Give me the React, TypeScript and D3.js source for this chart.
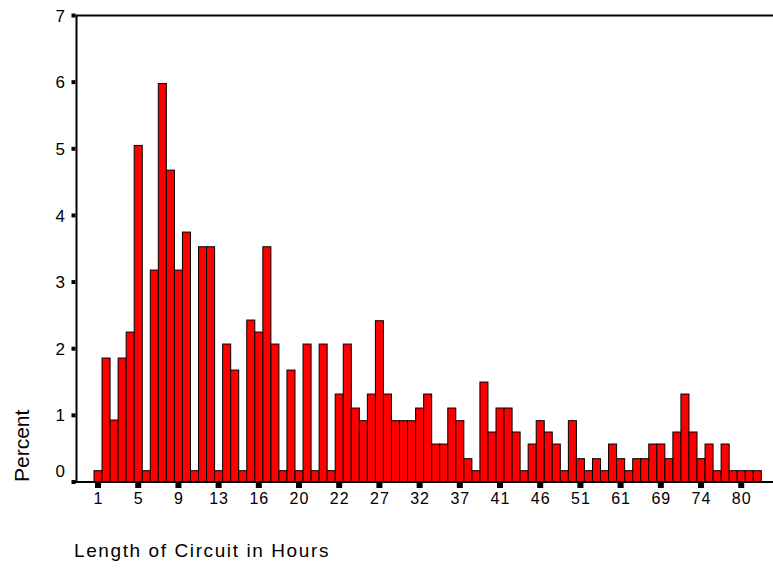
import React from "react";
import * as d3 from "d3";

const values: number[] = [
  0.17, 1.86, 0.93, 1.86, 2.25, 5.05, 0.17, 3.18, 5.98, 4.68,
  3.18, 3.75, 0.17, 3.53, 3.53, 0.17, 2.07, 1.68, 0.17, 2.43,
  2.25, 3.53, 2.07, 0.17, 1.68, 0.17, 2.07, 0.17, 2.07, 0.17,
  1.32, 2.07, 1.11, 0.92, 1.32, 2.42, 1.32, 0.92, 0.92, 0.92,
  1.11, 1.32, 0.57, 0.57, 1.11, 0.92, 0.35, 0.17, 1.5, 0.75,
  1.11, 1.11, 0.75, 0.17, 0.57, 0.92, 0.75, 0.57, 0.17, 0.92,
  0.35, 0.17, 0.35, 0.17, 0.57, 0.35, 0.17, 0.35, 0.35, 0.57,
  0.57, 0.35, 0.75, 1.32, 0.75, 0.35, 0.57, 0.17, 0.57, 0.17,
  0.17, 0.17, 0.17,
];

const tickLabels: string[] = [
  "1", "5", "9", "13", "16", "20", "22", "27", "32", "37",
  "41", "46", "51", "61", "69", "74", "80",
];
const tickEvery = 5;
const yTicks: number[] = [0, 1, 2, 3, 4, 5, 6, 7];

const W = 773;
const H = 588;
const axisX = 76.5;
const plotTop = 15.5;
const baseY = 482;
const barStart = 94;
const barW = 8.04;

export default function App() {
  const x = d3
    .scaleBand<number>()
    .domain(d3.range(values.length))
    .range([barStart, barStart + barW * values.length])
    .padding(0);
  const y = d3.scaleLinear().domain([0, 7]).range([baseY, plotTop]);
  const font = "'Liberation Sans', Arial, sans-serif";

  return (
    <svg
      width={W}
      height={H}
      style={{ position: "absolute", left: 0, top: 0, background: "#fff" }}
    >
      {values.map((v, i) => (
        <rect
          key={i}
          x={x(i)!}
          y={y(v)}
          width={x.bandwidth()}
          height={baseY - y(v)}
          fill="#ff0000"
          stroke="#000"
          strokeWidth={1}
        />
      ))}
      {/* frame */}
      <line x1={axisX} x2={axisX} y1={plotTop} y2={baseY + 1} stroke="#000" strokeWidth={2} />
      <line x1={axisX - 1} x2={W + 10} y1={plotTop} y2={plotTop} stroke="#000" strokeWidth={2} />
      <line x1={axisX - 4} x2={W + 10} y1={baseY} y2={baseY} stroke="#000" strokeWidth={2} />
      {/* y ticks */}
      {yTicks.map((t) => (
        <g key={t}>
          <rect x={axisX - 5} y={y(t) - 2} width={4} height={4} fill="#000" />
          <text
            x={65}
            y={y(t) + (t === 0 ? -11 : 0)}
            dy="0.36em"
            textAnchor="end"
            fontFamily={font}
            fontSize={17}
            fill="#000"
          >
            {t}
          </text>
        </g>
      ))}
      {/* x ticks */}
      {tickLabels.map((lab, k) => {
        const cx = x(k * tickEvery)! + x.bandwidth() / 2;
        return (
          <g key={lab + k}>
            <rect x={cx - 3} y={baseY + 1} width={6} height={5} fill="#000" />
            <text
              x={cx + 0.5}
              y={504}
              textAnchor="middle"
              fontFamily={font}
              fontSize={16}
              letterSpacing={1}
              fill="#000"
            >
              {lab}
            </text>
          </g>
        );
      })}
      <text
        x={74}
        y={557}
        fontFamily={font}
        fontSize={19}
        letterSpacing={1.6}
        fill="#000"
      >
        Length of Circuit in Hours
      </text>
      <text
        transform={`translate(29,482) rotate(-90)`}
        fontFamily={font}
        fontSize={21}
        fill="#000"
      >
        Percent
      </text>
    </svg>
  );
}
